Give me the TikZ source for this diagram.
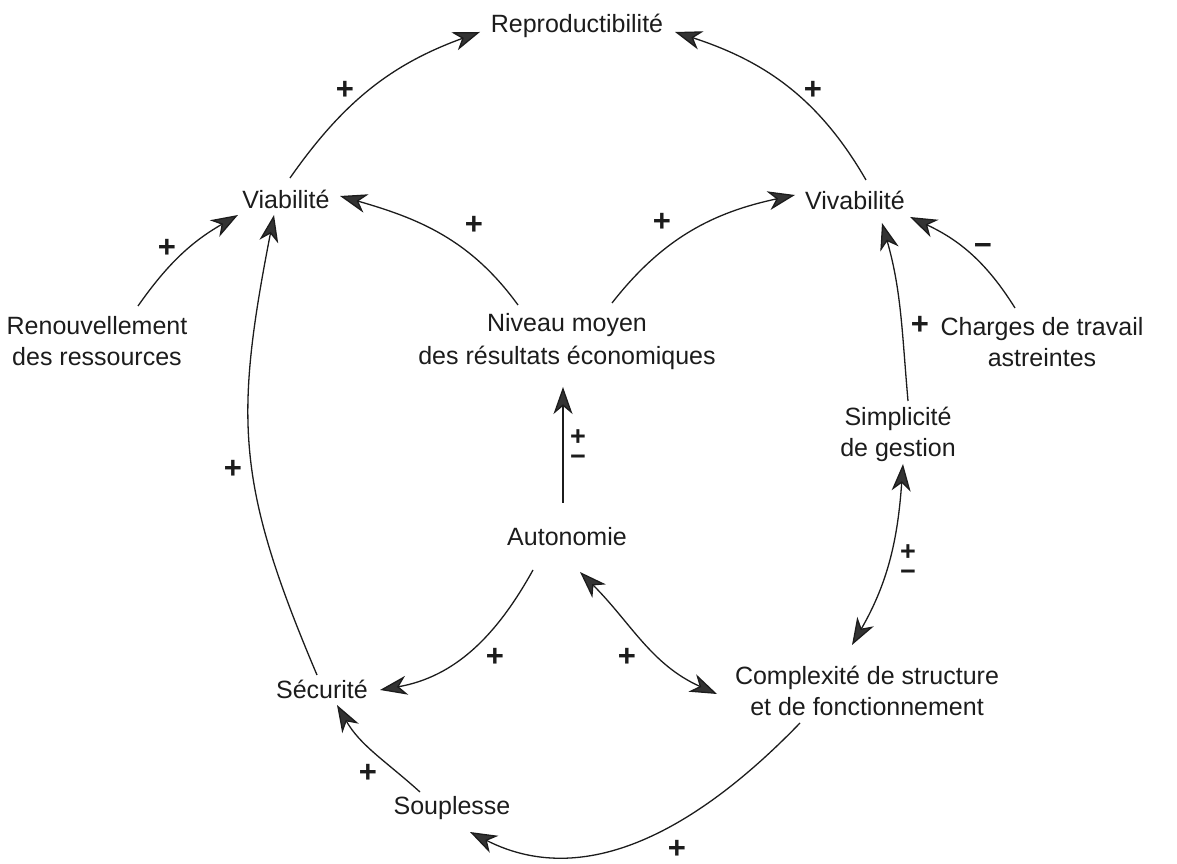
\documentclass[tikz,border=0pt]{standalone}
\usepackage{fontspec}
\setmainfont{Liberation Sans}
\usetikzlibrary{arrows.meta}
\definecolor{ink}{HTML}{1C1C1C}
\definecolor{head}{HTML}{333333}
\begin{document}
\begin{tikzpicture}[x=1pt,y=1pt,
  lbl/.style={inner sep=0pt, font=\fontsize{25}{31}\selectfont, text=ink, text height=18pt, text depth=0pt},
  lbltwo/.style={inner sep=0pt, font=\fontsize{25}{31}\selectfont, text=ink, align=center},
  sign/.style={inner sep=0pt, font=\fontsize{31}{31}\selectfont\bfseries, text=ink},
  pm/.style={inner sep=0pt, font=\fontsize{27}{20}\selectfont\bfseries, text=ink, align=center},
  headtip/.tip={Stealth[length=27pt,width=19pt,inset=8pt,fill=head]},
  link/.style={draw=ink, line width=1.3pt, -headtip},
  twoway/.style={draw=ink, line width=1.3pt, headtip-headtip},
]
\useasboundingbox (0,0) rectangle (1177,864);

% concepts
\node[lbl]    (reprod)  at (577,840) {Reproductibilité};
\node[lbl]    (viab)    at (286,664) {Viabilité};
\node[lbl]    (viva)    at (855,663) {Vivabilité};
\node[lbltwo] (renouv)  at (97,523)  {Renouvellement\\des ressources};
\node[lbltwo] (niveau)  at (567,522) {Niveau moyen\\[2pt]des résultats économiques};
\node[lbltwo] (charges) at (1042,522) {Charges de travail\\astreintes};
\node[lbltwo] (simp)    at (898,430) {Simplicité\\de gestion};
\node[lbl]    (auto)    at (567,327) {Autonomie};
\node[lbltwo] (compl)   at (867,173) {Complexité de structure\\et de fonctionnement};
\node[lbl]    (secu)    at (322,174) {Sécurité};
\node[lbl]    (soupl)   at (452,58)  {Souplesse};

% influences
\draw[link] ([shift={(4,22)}]viab.center) to[out=55,in=200] ([shift={(-97,-8)}]reprod.center);
\draw[link] ([shift={(11,21)}]viva.center) to[out=120,in=342] ([shift={(98,-8)}]reprod.center);
\draw[link] ([shift={(-49,37)}]niveau.center) to[out=126,in=344] ([shift={(54,4)}]viab.center);
\draw[link] ([shift={(45,39)}]niveau.center) to[out=52,in=192] ([shift={(-60,6)}]viva.center);
\draw[link] ([shift={(41,35)}]renouv.center) to[out=55,in=210] ([shift={(-48,-15)}]viab.center);
\draw[link] ([shift={(-27,34)}]charges.center) to[out=122,in=335] ([shift={(55,-16)}]viva.center);
\draw[link] ([shift={(10,33)}]simp.center) to[out=95,in=286] ([shift={(27,-22)}]viva.center);
\draw[link] ([shift={(-4,34)}]auto.center) -- ([shift={(-4,-45)}]niveau.center);
\draw[twoway] ([shift={(5,-30)}]simp.center) to[out=266,in=60] ([shift={(-15,46)}]compl.center);
\draw[link] ([shift={(-34,-33)}]auto.center) to[out=241,in=10] ([shift={(58,0)}]secu.center);
\draw[twoway] ([shift={(13,-35)}]auto.center) to[out=315,in=156] ([shift={(-150,-3)}]compl.center);
\draw[link] ([shift={(-5,15)}]secu.center) to[out=113,in=259,looseness=1.15] ([shift={(-12,-15)}]viab.center);
\draw[link] ([shift={(-32,14)}]soupl.center) to[out=138,in=300] ([shift={(15,-15)}]secu.center);
\draw[link] ([shift={(-67,-32)}]compl.center) to[out=226,in=333] ([shift={(18,-26)}]soupl.center);

% signs
\node[sign] (s1)  at (345,774) {+};
\node[sign] (s2)  at (813,774) {+};
\node[sign] (s3)  at (474,639) {+};
\node[sign] (s4)  at (662,642) {+};
\node[sign] (s5)  at (167,616) {+};
\node[sign] (s6)  at (983,614) {−};
\node[sign] (s7)  at (920,539) {+};
\node[pm]   (s8)  at (578,416) {+\\−};
\node[pm]   (s10) at (908,301) {+\\−};
\node[sign] (s12) at (233,395) {+};
\node[sign] (s13) at (495,207) {+};
\node[sign] (s14) at (627,207) {+};
\node[sign] (s15) at (368,91)  {+};
\node[sign] (s16) at (677,15)  {+};
\end{tikzpicture}
\end{document}
